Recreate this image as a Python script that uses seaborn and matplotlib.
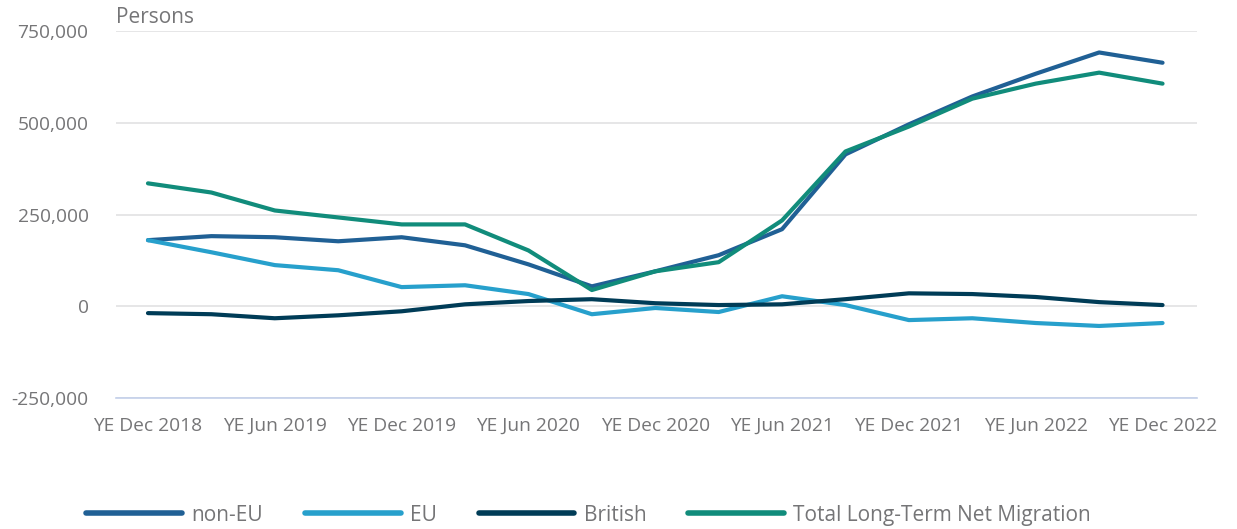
import pandas as pd
import matplotlib.pyplot as plt
import seaborn as sns

# --- data (persons, year ending each quarter) ---
periods = ['YE Dec 2018', 'YE Mar 2019', 'YE Jun 2019', 'YE Sep 2019', 'YE Dec 2019',
           'YE Mar 2020', 'YE Jun 2020', 'YE Sep 2020', 'YE Dec 2020', 'YE Mar 2021',
           'YE Jun 2021', 'YE Sep 2021', 'YE Dec 2021', 'YE Mar 2022', 'YE Jun 2022',
           'YE Sep 2022', 'YE Dec 2022']
non_eu = [180000, 191000, 188000, 177000, 188000, 166000, 114000, 54000, 95000, 139000,
          210000, 414000, 496000, 572000, 634000, 692000, 664000]
eu = [180000, 147000, 112000, 98000, 52000, 57000, 33000, -22000, -5000, -16000,
      27000, 3000, -38000, -33000, -46000, -54000, -46000]
british = [-19000, -22000, -33000, -25000, -14000, 5000, 14000, 19000, 8000, 3000,
           5000, 19000, 35000, 33000, 25000, 11000, 3000]
total = [335000, 310000, 261000, 242000, 223000, 223000, 152000, 44000, 95000, 120000,
         234000, 422000, 490000, 566000, 607000, 637000, 607000]

series = {'non-EU': non_eu, 'EU': eu, 'British': british,
          'Total Long-Term Net Migration': total}
palette = {'non-EU': '#206095', 'EU': '#27a0cc', 'British': '#003c57',
           'Total Long-Term Net Migration': '#118c7b'}

rows = []
for name, vals in series.items():
    for i, v in enumerate(vals):
        rows.append({'idx': i, 'Persons': v, 'Series': name})
df = pd.DataFrame(rows)

# --- style ---
sns.set_style('white')
plt.rcParams['font.family'] = ['Open Sans', 'DejaVu Sans']
text_grey = '#757577'
axis_blue = '#c3d0ea'

fig = plt.figure(figsize=(12.37, 5.29), dpi=100)
ax = fig.add_axes([0.094, 0.248, 0.874, 0.693])

sns.lineplot(data=df, x='idx', y='Persons', hue='Series', palette=palette,
             hue_order=list(series.keys()), linewidth=3, ax=ax, legend=True)

ax.set_xlim(-0.5, 16.55)
ax.set_ylim(-250000, 750000)
ax.set_yticks([-250000, 0, 250000, 500000, 750000])
ax.yaxis.set_major_formatter(plt.FuncFormatter(lambda v, p: f'{int(v):,}'))
ax.set_xticks(range(0, len(periods), 2))
ax.set_xticklabels(periods[::2])

ax.grid(axis='y', color='#e2e2e3', linewidth=1.2)
ax.grid(axis='x', visible=False)
for s in ['top', 'right', 'left']:
    ax.spines[s].set_visible(False)
ax.spines['bottom'].set_color(axis_blue)
ax.spines['bottom'].set_linewidth(1.2)

ax.tick_params(axis='x', colors=axis_blue, length=12, width=1.2, labelcolor=text_grey,
               labelsize=13.8, pad=2)
ax.tick_params(axis='y', length=0, labelcolor=text_grey, labelsize=13.8, pad=20)
ax.set_xlabel('')
ax.set_ylabel('')
ax.text(0.0, 1.01, 'Persons', transform=ax.transAxes, color=text_grey,
        fontsize=15, ha='left', va='bottom')

handles, labels = ax.get_legend_handles_labels()
for h in handles:
    h.set_linewidth(4)
ax.legend(handles, labels, loc='center left', bbox_to_anchor=(-0.045, -0.32),
          ncol=4, frameon=False, fontsize=15, labelcolor=text_grey,
          handlelength=4.6, handletextpad=0.45, columnspacing=2.0)

fig.savefig('out.png', dpi=100)
